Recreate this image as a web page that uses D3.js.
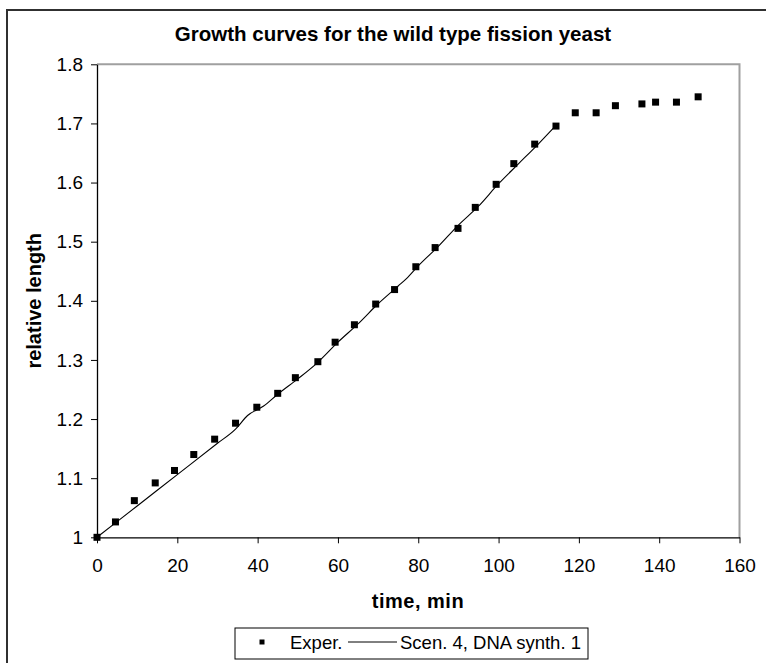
<!DOCTYPE html>
<html>
<head>
<meta charset="utf-8">
<script src="https://cdn.jsdelivr.net/npm/d3@7"></script>
<style>
  html, body { margin: 0; padding: 0; background: #fff; }
  svg { display: block; font-family: "Liberation Sans", Arial, sans-serif; }
</style>
</head>
<body>
<svg id="chart" width="766" height="663"></svg>
<script>
// ---- data ----
const expTime = [0, 4.6, 9.3, 14.5, 19.3, 24.1, 29.3, 34.5, 39.8, 45.0, 49.4, 55.0, 59.3, 64.1, 69.4, 74.1,
  79.4, 84.2, 89.9, 94.2, 99.4, 103.8, 109.0, 114.3, 119.1, 124.3, 129.1, 135.7, 139.1, 144.3, 149.7];
const expValue = [1.000, 1.026, 1.062, 1.092, 1.113, 1.140, 1.166, 1.193, 1.220, 1.2435, 1.270, 1.297, 1.330, 1.3595, 1.3945, 1.419,
  1.4576, 1.490, 1.5225, 1.558, 1.597, 1.632, 1.665, 1.6955, 1.718, 1.718, 1.730, 1.733, 1.736, 1.736, 1.745];

const modelTime = [0, 10, 20, 30, 34.5, 37.5, 41.5, 45, 50, 55, 60, 65, 70, 75, 77, 80, 85, 90, 95, 100, 105, 110, 114.6];
const modelValue = [1.000, 1.053, 1.106, 1.159, 1.183, 1.206, 1.222, 1.242, 1.268, 1.296, 1.330, 1.361, 1.395, 1.425, 1.437, 1.459, 1.492, 1.528, 1.560, 1.598, 1.632, 1.666, 1.699];

const xTicks = [0, 20, 40, 60, 80, 100, 120, 140, 160];
const xTickLabels = ["0", "20", "40", "60", "80", "100", "120", "140", "160"];
const yTicks = [1, 1.1, 1.2, 1.3, 1.4, 1.5, 1.6, 1.7, 1.8];
const yTickLabels = ["1", "1.1", "1.2", "1.3", "1.4", "1.5", "1.6", "1.7", "1.8"];

const titleText = "Growth curves for the wild type fission yeast";
const xTitle = "time, min";
const yTitle = "relative length";
const seriesNames = ["Exper.", "Scen. 4, DNA synth. 1"];

// ---- layout ----
const svg = d3.select("#chart");
const L = 97, R = 739.5, T = 64.3, B = 537.3;
const x = d3.scaleLinear().domain([0, 160]).range([L, R]);
const y = d3.scaleLinear().domain([1, 1.8]).range([B, T]);

// outer frame
svg.append("rect").attr("x", 7).attr("y", 10).attr("width", 820).attr("height", 720)
  .attr("fill", "#fff").attr("stroke", "#303030").attr("stroke-width", 2);

// plot area border (top/right gray)
svg.append("path")
  .attr("d", `M${L},${T}H${R}V${B}`)
  .attr("fill", "none").attr("stroke", "#a0a0a0").attr("stroke-width", 2);

// axes
const xAxis = d3.axisBottom(x).tickValues(xTicks)
  .tickFormat((d, i) => xTickLabels[i]).tickSize(6).tickSizeOuter(0).tickPadding(12);
const gx = svg.append("g").attr("transform", `translate(0,${B})`).call(xAxis);
const yAxis = d3.axisLeft(y).tickValues(yTicks)
  .tickFormat((d, i) => yTickLabels[i]).tickSize(6).tickSizeOuter(0).tickPadding(8);
const gy = svg.append("g").attr("transform", `translate(${L},0)`).call(yAxis);
[gx, gy].forEach(g => {
  g.selectAll("path.domain").attr("stroke", "#000").attr("stroke-width", 1.3);
  g.selectAll(".tick line").attr("stroke", "#000").attr("stroke-width", 1);
  g.selectAll(".tick text").attr("fill", "#000")
    .style("font-family", "'Liberation Sans', Arial, sans-serif").style("font-size", "19px");
});
gx.selectAll(".tick text").attr("dy", "0.9em");

// model line
const line = d3.line().x((d, i) => x(modelTime[i])).y((d, i) => y(modelValue[i])).curve(d3.curveMonotoneX);
svg.append("path").datum(modelValue).attr("d", line)
  .attr("fill", "none").attr("stroke", "#000").attr("stroke-width", 1.1);

// experimental markers
const ms = 7;
svg.append("g").selectAll("rect").data(expValue).join("rect")
  .attr("x", (d, i) => x(expTime[i]) - ms / 2)
  .attr("y", d => y(d) - ms / 2)
  .attr("width", ms).attr("height", ms).attr("fill", "#000");

// title
svg.append("text").attr("x", 393).attr("y", 41).attr("text-anchor", "middle")
  .style("font-size", "20.5px").style("font-weight", "bold").text(titleText);

// axis titles
svg.append("text").attr("x", 418).attr("y", 608).attr("text-anchor", "middle")
  .style("font-size", "20px").style("font-weight", "bold").style("letter-spacing", "0.5px").text(xTitle);
svg.append("text").attr("transform", `translate(41,${(T + B) / 2}) rotate(-90)`).attr("text-anchor", "middle")
  .style("font-size", "20px").style("font-weight", "bold").text(yTitle);

// legend
const lg = svg.append("g");
lg.append("rect").attr("x", 235).attr("y", 628).attr("width", 353).attr("height", 31)
  .attr("fill", "#fff").attr("stroke", "#000").attr("stroke-width", 1);
lg.append("rect").attr("x", 262 - 2.5).attr("y", 642 - 2.5).attr("width", 5).attr("height", 5).attr("fill", "#000");
lg.append("text").attr("x", 290).attr("y", 649).style("font-size", "18.5px").text(seriesNames[0]);
lg.append("line").attr("x1", 348).attr("x2", 397).attr("y1", 642).attr("y2", 642)
  .attr("stroke", "#000").attr("stroke-width", 1);
lg.append("text").attr("x", 400).attr("y", 649).style("font-size", "18.5px").text(seriesNames[1]);
</script>
</body>
</html>
